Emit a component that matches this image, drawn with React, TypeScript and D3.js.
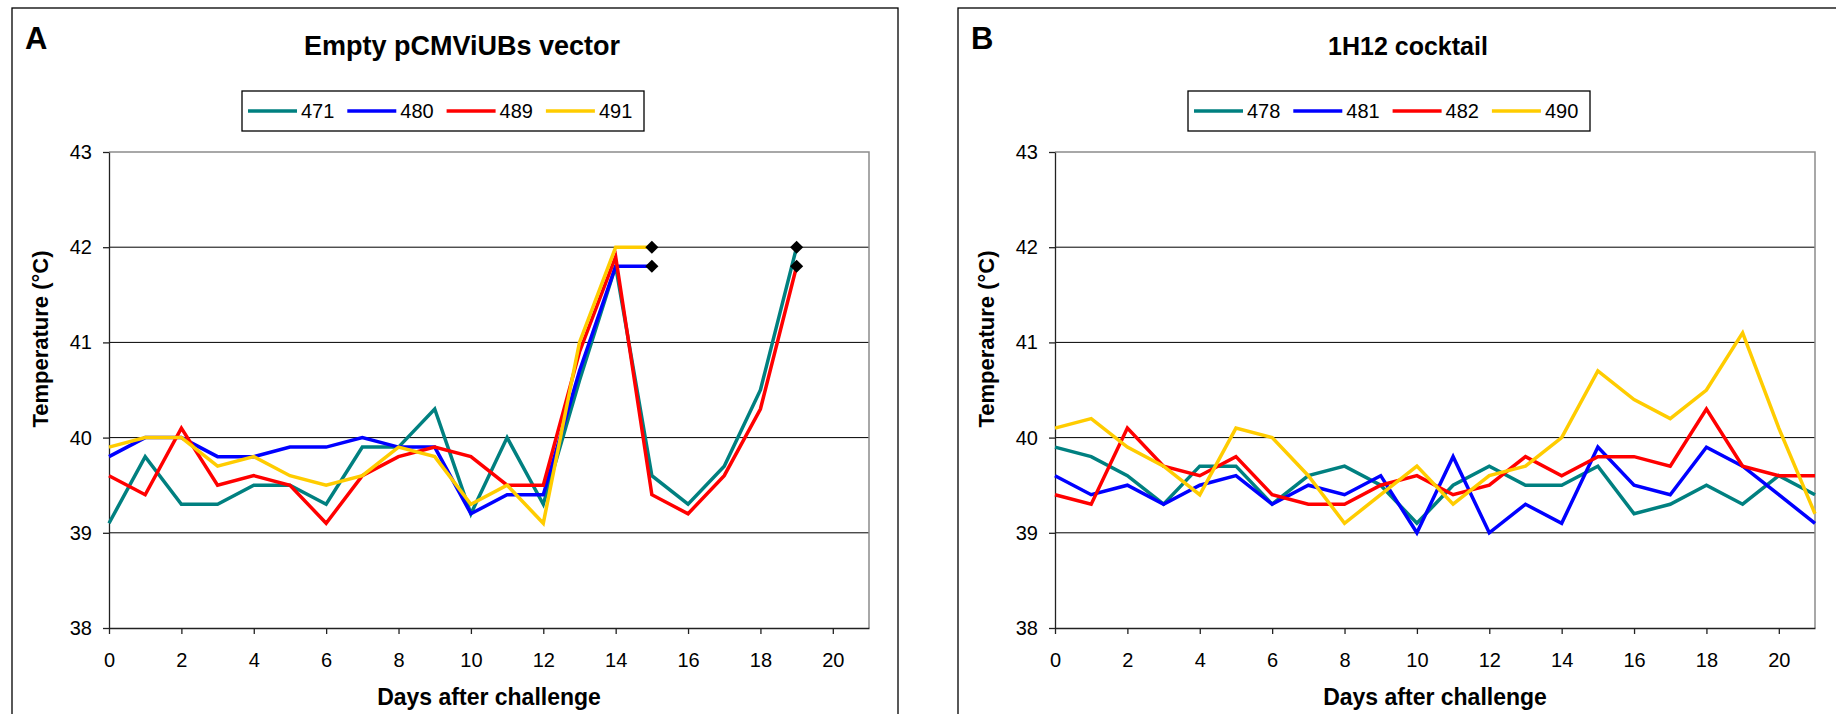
import React, { useEffect, useRef } from 'react';
import * as d3 from 'd3';

const yTicks = [38, 39, 40, 41, 42, 43];
const xTicks = [0, 2, 4, 6, 8, 10, 12, 14, 16, 18, 20];
const colors = ['#008080', '#0000FF', '#FF0000', '#FFCC00'];

// panel A - empty vector (values per day, starting day 0)
const namesA = ['471', '480', '489', '491'];
const temp471 = [39.1, 39.8, 39.3, 39.3, 39.5, 39.5, 39.3, 39.9, 39.9, 40.3, 39.2, 40.0, 39.3, 40.6, 41.8, 39.6, 39.3, 39.7, 40.5, 42.0];
const temp480 = [39.8, 40.0, 40.0, 39.8, 39.8, 39.9, 39.9, 40.0, 39.9, 39.9, 39.2, 39.4, 39.4, 40.7, 41.8, 41.8];
const temp489 = [39.6, 39.4, 40.1, 39.5, 39.6, 39.5, 39.1, 39.6, 39.8, 39.9, 39.8, 39.5, 39.5, 40.9, 41.9, 39.4, 39.2, 39.6, 40.3, 41.8];
const temp491 = [39.9, 40.0, 40.0, 39.7, 39.8, 39.6, 39.5, 39.6, 39.9, 39.8, 39.3, 39.5, 39.1, 41.0, 42.0, 42.0];
const deathDaysA = [15, 15, 19, 19];
const deathTempsA = [42.0, 41.8, 42.0, 41.8];

// panel B - 1H12 cocktail
const namesB = ['478', '481', '482', '490'];
const temp478 = [39.9, 39.8, 39.6, 39.3, 39.7, 39.7, 39.3, 39.6, 39.7, 39.5, 39.1, 39.5, 39.7, 39.5, 39.5, 39.7, 39.2, 39.3, 39.5, 39.3, 39.6, 39.4];
const temp481 = [39.6, 39.4, 39.5, 39.3, 39.5, 39.6, 39.3, 39.5, 39.4, 39.6, 39.0, 39.8, 39.0, 39.3, 39.1, 39.9, 39.5, 39.4, 39.9, 39.7, 39.4, 39.1];
const temp482 = [39.4, 39.3, 40.1, 39.7, 39.6, 39.8, 39.4, 39.3, 39.3, 39.5, 39.6, 39.4, 39.5, 39.8, 39.6, 39.8, 39.8, 39.7, 40.3, 39.7, 39.6, 39.6];
const temp490 = [40.1, 40.2, 39.9, 39.7, 39.4, 40.1, 40.0, 39.6, 39.1, 39.4, 39.7, 39.3, 39.6, 39.7, 40.0, 40.7, 40.4, 40.2, 40.5, 41.1, 40.1, 39.2];

const font = '"Liberation Sans", Arial, sans-serif';

function drawPanel(svg, px, letter, title, titleSize, names, series, deathDays, deathTemps) {
  const g = svg.append('g');

  const x = d3.scaleLinear().domain([0, 21]).range([px + 97, px + 857]);
  const y = d3.scaleLinear().domain([38, 43]).range([628, 152]);

  // outer frame
  g.append('rect')
    .attr('x', px).attr('y', 8)
    .attr('width', 886).attr('height', 760)
    .attr('fill', 'white')
    .attr('stroke', 'black')
    .attr('stroke-width', 1.3);

  g.append('text')
    .attr('x', px + 13).attr('y', 49)
    .attr('font-size', 31).attr('font-weight', 'bold')
    .attr('font-family', font)
    .text(letter);

  g.append('text')
    .attr('x', px + 450).attr('y', 55)
    .attr('text-anchor', 'middle')
    .attr('font-size', titleSize).attr('font-weight', 'bold')
    .attr('font-family', font)
    .text(title);

  // legend
  const lg = g.append('g');
  lg.append('rect')
    .attr('x', px + 230).attr('y', 91)
    .attr('width', 402).attr('height', 40)
    .attr('fill', 'white').attr('stroke', 'black').attr('stroke-width', 1.3);
  names.forEach((n, i) => {
    const sx = px + 236 + i * 99.3;
    lg.append('line')
      .attr('x1', sx).attr('x2', sx + 49)
      .attr('y1', 111).attr('y2', 111)
      .attr('stroke', colors[i]).attr('stroke-width', 3.5);
    lg.append('text')
      .attr('x', sx + 53).attr('y', 118)
      .attr('font-size', 20).attr('font-family', font)
      .text(n);
  });

  // gridlines
  g.selectAll('.grid')
    .data(yTicks.filter(t => t > 38 && t < 43))
    .enter().append('line')
    .attr('x1', x(0)).attr('x2', x(21))
    .attr('y1', d => y(d)).attr('y2', d => y(d))
    .attr('stroke', 'black').attr('stroke-width', 1);

  // plot border top/right (grey)
  g.append('path')
    .attr('d', `M${x(0)},${y(43)}H${x(21)}V${y(38)}`)
    .attr('fill', 'none').attr('stroke', '#8c8c8c').attr('stroke-width', 1.5);

  // axes
  const ya = g.append('g')
    .attr('transform', `translate(${x(0)},0)`)
    .call(d3.axisLeft(y).tickValues(yTicks).tickFormat(d3.format('d'))
      .tickSize(6).tickSizeOuter(0).tickPadding(11));
  const xa = g.append('g')
    .attr('transform', `translate(0,${y(38)})`)
    .call(d3.axisBottom(x).tickValues(xTicks).tickFormat(d3.format('d'))
      .tickSize(6).tickSizeOuter(0).tickPadding(19));
  [ya, xa].forEach(a => {
    a.selectAll('path, line').attr('stroke', '#222').attr('stroke-width', 1.3);
    a.selectAll('text').attr('font-size', 20).attr('font-family', font).attr('fill', 'black');
  });

  g.append('text')
    .attr('x', (x(0) + x(21)) / 2).attr('y', 705)
    .attr('text-anchor', 'middle')
    .attr('font-size', 23).attr('font-weight', 'bold')
    .attr('font-family', font)
    .text('Days after challenge');

  g.append('text')
    .attr('transform', `translate(${px + 36},339) rotate(-90)`)
    .attr('text-anchor', 'middle')
    .attr('font-size', 22).attr('font-weight', 'bold')
    .attr('font-family', font)
    .text('Temperature (°C)');

  // series
  const line = d3.line().x((d, i) => x(i)).y(d => y(d));
  series.forEach((s, i) => {
    g.append('path')
      .datum(s)
      .attr('fill', 'none')
      .attr('stroke', colors[i])
      .attr('stroke-width', 3.5)
      .attr('d', line);
  });

  // end points (black diamonds)
  const sym = d3.symbol(d3.symbolDiamond2, 110);
  deathDays.forEach((d, i) => {
    g.append('path')
      .attr('transform', `translate(${x(d)},${y(deathTemps[i])})`)
      .attr('d', sym())
      .attr('fill', 'black');
  });
}

export default function App() {
  const ref = useRef(null);

  useEffect(() => {
    const svg = d3.select(ref.current);
    svg.selectAll('*').remove();
    svg.append('rect').attr('width', 1836).attr('height', 714).attr('fill', 'white');
    drawPanel(svg, 12, 'A', 'Empty pCMViUBs vector', 27, namesA,
      [temp471, temp480, temp489, temp491], deathDaysA, deathTempsA);
    drawPanel(svg, 958, 'B', '1H12 cocktail', 25, namesB,
      [temp478, temp481, temp482, temp490], [], []);
  }, []);

  return (
    <svg ref={ref} width={1836} height={714}
      style={{ position: 'absolute', left: 0, top: 0, display: 'block' }} />
  );
}
